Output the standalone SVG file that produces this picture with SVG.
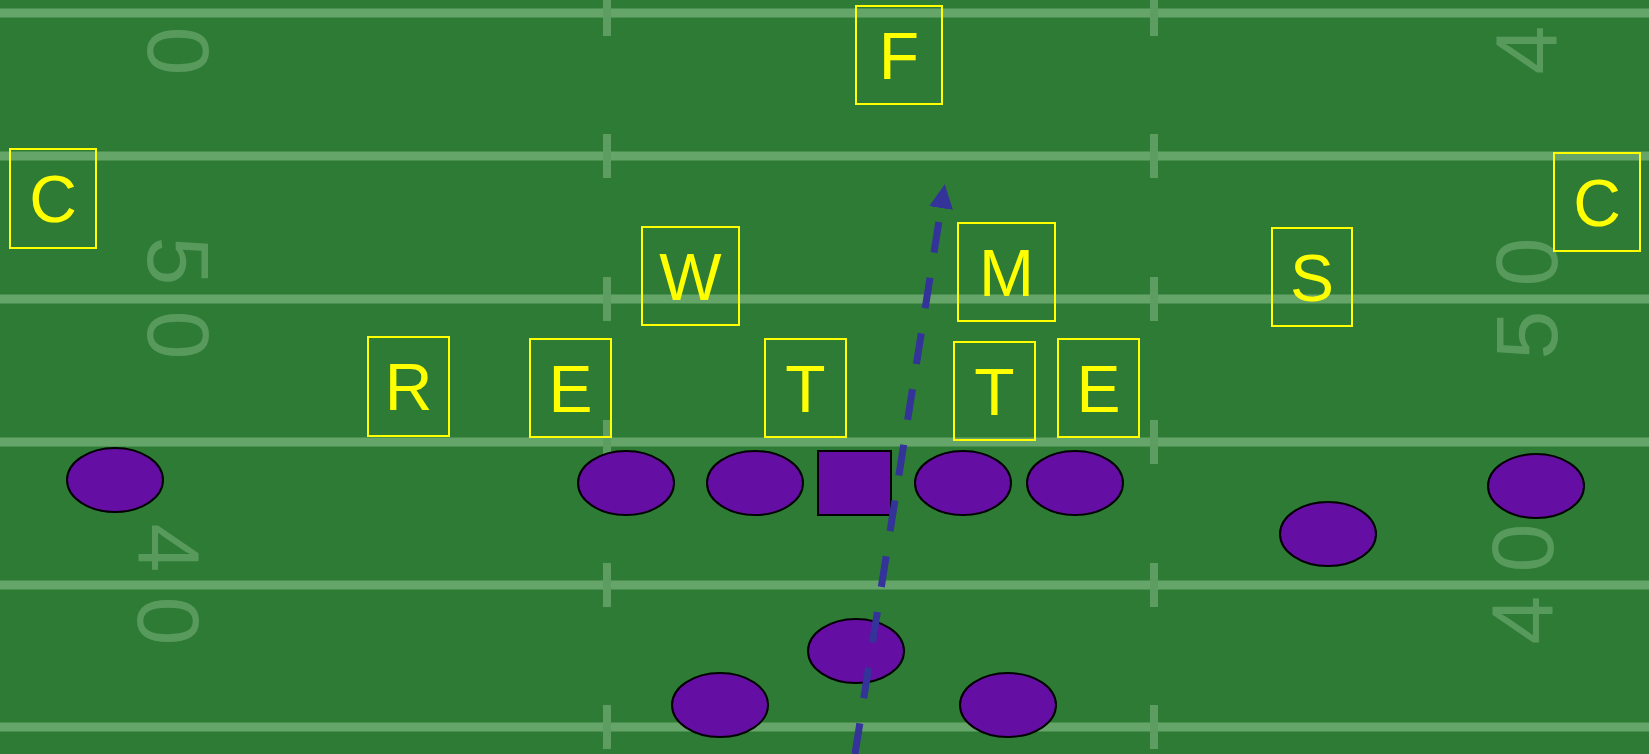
<svg xmlns="http://www.w3.org/2000/svg" width="1649" height="754" viewBox="0 0 1649 754">
<style>
.yl{stroke:#66a569;stroke-width:9;fill:none}
.hash{stroke:#5d9d61;stroke-width:8}
.num{font-family:"Liberation Sans",Arial,sans-serif;font-size:88px;fill:#6aa86d;opacity:0.7;text-anchor:middle;dominant-baseline:central}
.box rect{fill:none;stroke:#ffff00;stroke-width:2}
.box text{font-family:"Liberation Sans",Arial,sans-serif;font-size:66px;fill:#ffff00;text-anchor:middle}
.pl{fill:#650ea4;stroke:#000;stroke-width:2}
.route{stroke:#333399;stroke-width:7;fill:none;stroke-dasharray:31 25.4}
</style>
<defs>
<marker id="ah" markerUnits="userSpaceOnUse" markerWidth="26" markerHeight="26" refX="0" refY="12" orient="auto">
<path d="M0,0 L24,12 L0,24 z" fill="#333399"/>
</marker>
</defs>
<g id="field">
<rect x="0" y="0" width="1649" height="754" fill="#2e7b36"/>
<line class="yl" x1="0" y1="13" x2="1649" y2="13"/>
<line class="yl" x1="0" y1="156" x2="1649" y2="156"/>
<line class="yl" x1="0" y1="299" x2="1649" y2="299"/>
<line class="yl" x1="0" y1="442" x2="1649" y2="442"/>
<line class="yl" x1="0" y1="585" x2="1649" y2="585"/>
<line class="yl" x1="0" y1="727" x2="1649" y2="727"/>
<g class="hash">
<line x1="607" y1="0" x2="607" y2="36"/>
<line x1="607" y1="134" x2="607" y2="178"/>
<line x1="607" y1="277" x2="607" y2="321"/>
<line x1="607" y1="420" x2="607" y2="464"/>
<line x1="607" y1="563" x2="607" y2="607"/>
<line x1="607" y1="705" x2="607" y2="749"/>
<line x1="1154" y1="0" x2="1154" y2="36"/>
<line x1="1154" y1="134" x2="1154" y2="178"/>
<line x1="1154" y1="277" x2="1154" y2="321"/>
<line x1="1154" y1="420" x2="1154" y2="464"/>
<line x1="1154" y1="563" x2="1154" y2="607"/>
<line x1="1154" y1="705" x2="1154" y2="749"/>
</g>
<text class="num" transform="translate(178,51) rotate(90)">0</text>
<text class="num" transform="translate(178,261) rotate(90)">5</text>
<text class="num" transform="translate(178,335) rotate(90)">0</text>
<text class="num" transform="translate(168,548) rotate(90)">4</text>
<text class="num" transform="translate(168,621) rotate(90)">0</text>
<text class="num" transform="translate(1526,50) rotate(-90)">4</text>
<text class="num" transform="translate(1526,262) rotate(-90)">0</text>
<text class="num" transform="translate(1526,335) rotate(-90)">5</text>
<text class="num" transform="translate(1522,548) rotate(-90)">0</text>
<text class="num" transform="translate(1522,620) rotate(-90)">4</text>
</g>
<g id="offense">
<ellipse id="wr-left" class="pl" cx="115" cy="480" rx="48" ry="32"/>
<ellipse id="lt" class="pl" cx="626" cy="483" rx="48" ry="32"/>
<ellipse id="lg" class="pl" cx="755" cy="483" rx="48" ry="32"/>
<rect id="center" class="pl" x="818" y="451" width="73" height="64"/>
<ellipse id="rg" class="pl" cx="963" cy="483" rx="48" ry="32"/>
<ellipse id="rt" class="pl" cx="1075" cy="483" rx="48" ry="32"/>
<ellipse id="slot" class="pl" cx="1328" cy="534" rx="48" ry="32"/>
<ellipse id="wr-right" class="pl" cx="1536" cy="486" rx="48" ry="32"/>
<ellipse id="qb" class="pl" cx="856" cy="651" rx="48" ry="32"/>
<ellipse id="back-left" class="pl" cx="720" cy="705" rx="48" ry="32"/>
<ellipse id="back-right" class="pl" cx="1008" cy="705" rx="48" ry="32"/>
</g>
<g id="connectors">
<path class="route" d="M855,754 L941,208" marker-end="url(#ah)"/>
</g>
<g id="defense">
<g id="F" class="box"><rect x="856" y="6" width="86" height="98"/><text x="899" y="79">F</text></g>
<g id="C-left" class="box"><rect x="10" y="149" width="86" height="99"/><text x="53" y="222">C</text></g>
<g id="C-right" class="box"><rect x="1554" y="153" width="86" height="98"/><text x="1597" y="226">C</text></g>
<g id="W" class="box"><rect x="642" y="227" width="97" height="98"/><text x="690.5" y="300">W</text></g>
<g id="M" class="box"><rect x="958" y="223" width="97" height="98"/><text x="1006.5" y="296">M</text></g>
<g id="S" class="box"><rect x="1272" y="228" width="80" height="98"/><text x="1312" y="301">S</text></g>
<g id="R" class="box"><rect x="368" y="337" width="81" height="99"/><text x="408.5" y="410">R</text></g>
<g id="E-left" class="box"><rect x="530" y="339" width="81" height="98"/><text x="570.5" y="412">E</text></g>
<g id="T-left" class="box"><rect x="765" y="339" width="81" height="98"/><text x="805.5" y="412">T</text></g>
<g id="T-right" class="box"><rect x="954" y="342" width="81" height="98"/><text x="994.5" y="415">T</text></g>
<g id="E-right" class="box"><rect x="1058" y="339" width="81" height="98"/><text x="1098.5" y="412">E</text></g>
</g>
</svg>
